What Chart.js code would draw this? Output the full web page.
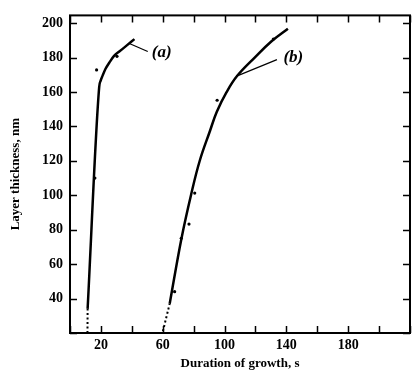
<!DOCTYPE html>
<html>
<head>
<meta charset="utf-8">
<script src="https://cdn.jsdelivr.net/npm/chart.js@4.4.0/dist/chart.umd.min.js"></script>
<style>
  html, body { margin: 0; padding: 0; background: #fff; }
  #wrap { width: 415px; height: 376px; position: relative; }
</style>
</head>
<body>
<div id="wrap"><canvas id="chart"></canvas></div>
<script>
// curve (a): short film growth
const aDottedX = [11.3, 11.4];
const aDottedY = [20, 34];
const aLineX = [11.4, 18.9, 19.8, 21.1, 23, 25.4, 28.5, 31.9, 36, 41.7];
const aLineY = [34, 163, 166.5, 169.5, 173.5, 177, 181, 183.5, 186.5, 190.7];
const aDotsX = [16.1, 17.2, 30.4];
const aDotsY = [110, 172.8, 180.7];

// curve (b)
const bDottedX = [60.1, 64.5];
const bDottedY = [21, 37];
const bLineX = [64.5, 72.1, 78.6, 84, 90.5, 95, 101.3, 108.2, 119.5, 130.4, 141];
const bLineY = [37, 74.8, 101.3, 120.2, 137.2, 148.5, 159.9, 169.4, 180, 189.5, 196.8];
const bDotsX = [67.7, 72, 77, 80.7, 95.2, 131.6];
const bDotsY = [44, 75, 83.3, 101.3, 155.2, 190.8];

// label leaders and label text
const leaderAX = [38.4, 50.3];
const leaderAY = [188.2, 183.5];
const leaderBX = [108.2, 133.9];
const leaderBY = [169.4, 178.8];
const curveLabels = ['(a)', '(b)'];
const curveLabelX = [59.3, 144.5];
const curveLabelY = [183, 180];

// axes
const xTicks = [0, 20, 40, 60, 80, 100, 120, 140, 160, 180, 200, 220];
const xTickLabels = [20, 60, 100, 140, 180];
const yTicks = [20, 40, 60, 80, 100, 120, 140, 160, 180, 200];
const yTickLabels = [40, 60, 80, 100, 120, 140, 160, 180, 200];

function pts(xs, ys) {
    return xs.map((x, i) => ({ x: x, y: ys[i] }));
}

const FONT = "'Liberation Serif', 'Times New Roman', serif";

const framePlugin = {
    id: 'frame',
    afterDatasetsDraw(chart) {
        const ctx = chart.ctx;
        const a = chart.chartArea;
        const sx = chart.scales.x, sy = chart.scales.y;
        ctx.save();
        ctx.strokeStyle = '#000';
        ctx.lineWidth = 2;
        ctx.strokeRect(a.left, a.top, a.right - a.left, a.bottom - a.top);
        ctx.lineWidth = 1.5;
        ctx.beginPath();
        xTicks.forEach(v => {
            const px = Math.round(sx.getPixelForValue(v)) + 0.5;
            ctx.moveTo(px, a.bottom); ctx.lineTo(px, a.bottom - 7);
            ctx.moveTo(px, a.top); ctx.lineTo(px, a.top + 7);
        });
        yTicks.forEach(v => {
            const py = Math.round(sy.getPixelForValue(v)) + 0.5;
            ctx.moveTo(a.left, py); ctx.lineTo(a.left + 7, py);
            ctx.moveTo(a.right, py); ctx.lineTo(a.right - 7, py);
        });
        ctx.stroke();

        ctx.fillStyle = '#000';
        ctx.font = 'italic bold 17px ' + FONT;
        ctx.textAlign = 'center';
        ctx.textBaseline = 'middle';
        curveLabels.forEach((t, i) => {
            ctx.fillText(t, sx.getPixelForValue(curveLabelX[i]), sy.getPixelForValue(curveLabelY[i]));
        });
        ctx.restore();
    }
};

const solidA = { showLine: true, fill: false, borderColor: '#000', borderWidth: 2.5, pointRadius: 0, cubicInterpolationMode: 'monotone' };
const solidB = { showLine: true, fill: false, borderColor: '#000', borderWidth: 2.5, pointRadius: 0, tension: 0.4 };
const dotted = { showLine: true, fill: false, borderColor: '#000', borderWidth: 2, borderDash: [2, 2.5], pointRadius: 0 };
const thin = { showLine: true, fill: false, borderColor: '#000', borderWidth: 1.2, pointRadius: 0 };
const dots = { showLine: false, pointRadius: 1.6, pointBackgroundColor: '#000', pointBorderWidth: 0 };

new Chart(document.getElementById('chart'), {
    type: 'scatter',
    data: {
        datasets: [
            Object.assign({ data: pts(aDottedX, aDottedY) }, dotted),
            Object.assign({ data: pts(aLineX, aLineY) }, solidA),
            Object.assign({ data: pts(aDotsX, aDotsY) }, dots),
            Object.assign({ data: pts(bDottedX, bDottedY) }, dotted),
            Object.assign({ data: pts(bLineX, bLineY) }, solidB),
            Object.assign({ data: pts(bDotsX, bDotsY) }, dots),
            Object.assign({ data: pts(leaderAX, leaderAY) }, thin),
            Object.assign({ data: pts(leaderBX, leaderBY) }, thin)
        ]
    },
    options: {
        responsive: true,
        maintainAspectRatio: false,
        animation: false,
        events: [],
        layout: { padding: { top: 8, right: 5, left: 0, bottom: 0 } },
        plugins: { legend: { display: false }, tooltip: { enabled: false } },
        scales: {
            x: {
                type: 'linear',
                min: 0,
                max: 220,
                grid: { display: false, drawTicks: false },
                border: { display: false },
                afterFit: s => { s.height = 43; },
                afterBuildTicks: s => { s.ticks = xTicks.map(v => ({ value: v })); },
                ticks: {
                    padding: 4,
                    color: '#000',
                    maxRotation: 0,
                    autoSkip: false,
                    font: { family: FONT, size: 14, weight: 'bold' },
                    callback: v => xTickLabels.includes(v) ? String(v) : ''
                },
                title: {
                    display: true,
                    text: 'Duration of growth, s',
                    color: '#000',
                    font: { family: FONT, size: 13, weight: 'bold' },
                    padding: { top: 0, bottom: 5 }
                }
            },
            y: {
                type: 'linear',
                min: 20,
                max: 204.5,
                grid: { display: false, drawTicks: false },
                border: { display: false },
                afterFit: s => { s.width = 70; },
                afterBuildTicks: s => { s.ticks = yTicks.map(v => ({ value: v })); },
                ticks: {
                    padding: 7,
                    color: '#000',
                    autoSkip: false,
                    font: { family: FONT, size: 14, weight: 'bold' },
                    callback: v => yTickLabels.includes(v) ? String(v) : ''
                },
                title: {
                    display: true,
                    text: 'Layer thickness, nm',
                    color: '#000',
                    font: { family: FONT, size: 13, weight: 'bold' },
                    padding: { top: 8, bottom: 0 }
                }
            }
        }
    },
    plugins: [framePlugin]
});
</script>
</body>
</html>
